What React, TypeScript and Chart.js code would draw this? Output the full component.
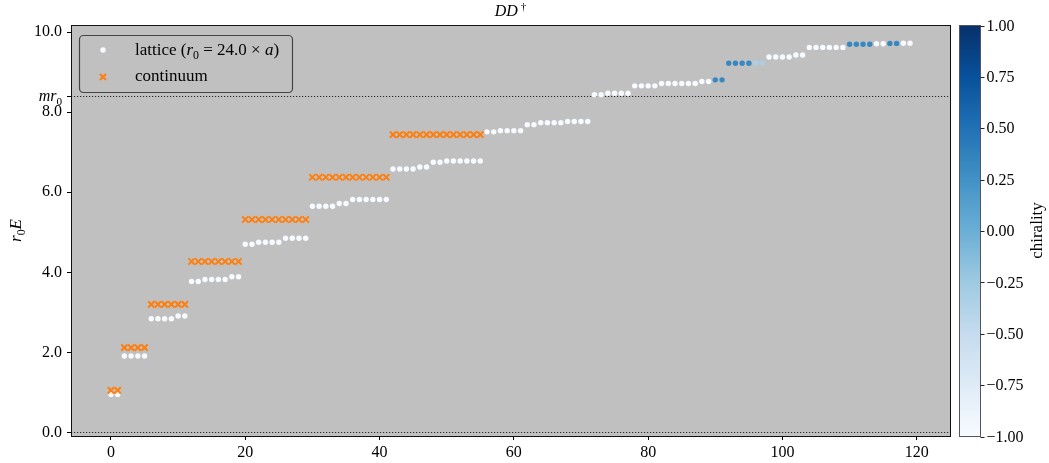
import React, { useEffect, useRef } from "react";
import { Chart, registerables } from "chart.js";
Chart.register(...registerables);

// ---------------- data ----------------
const latticeEnergy = [
  0.95, 0.95,
  1.91, 1.91, 1.91, 1.91,
  2.84, 2.84, 2.84, 2.84, 2.91, 2.91,
  3.77, 3.77, 3.82, 3.82, 3.82, 3.82, 3.89, 3.89,
  4.70, 4.70, 4.75, 4.75, 4.75, 4.75, 4.85, 4.85, 4.85, 4.85,
  5.65, 5.65, 5.65, 5.65, 5.72, 5.72, 5.82, 5.82, 5.82, 5.82, 5.82, 5.82,
  6.58, 6.58, 6.58, 6.58, 6.63, 6.63, 6.75, 6.75, 6.78, 6.78, 6.78, 6.78, 6.78, 6.78,
  7.51, 7.51, 7.54, 7.54, 7.54, 7.54, 7.69, 7.69, 7.74, 7.74, 7.74, 7.74, 7.77, 7.77, 7.77, 7.77,
  8.44, 8.44, 8.475, 8.475, 8.475, 8.475, 8.66, 8.66, 8.66, 8.66,
  8.72, 8.72, 8.72, 8.72, 8.72, 8.72, 8.77, 8.77, 8.81, 8.81,
  9.225, 9.225, 9.225, 9.225, 9.23, 9.23, 9.38, 9.38, 9.38, 9.38, 9.43, 9.43,
  9.62, 9.62, 9.62, 9.62, 9.62, 9.62, 9.70, 9.70, 9.70, 9.70, 9.71, 9.71,
  9.72, 9.72, 9.725, 9.725,
];

const latticeChirality = [
  -1, -1, -1, -1, -1, -1, -1, -1, -1, -1,
  -1, -1, -1, -1, -1, -1, -1, -1, -1, -1,
  -1, -1, -1, -1, -1, -1, -1, -1, -1, -1,
  -1, -1, -1, -1, -1, -1, -1, -1, -1, -1,
  -1, -1, -1, -1, -1, -1, -1, -1, -1, -1,
  -1, -1, -1, -1, -1, -1, -1, -1, -1, -1,
  -1, -1, -1, -1, -1, -1, -1, -1, -1, -1,
  -1, -1, -1, -1, -1, -1, -1, -1, -1, -1,
  -1, -1, -1, -1, -1, -1, -1, -1, -1, -1,
  0.33, 0.33, 0.33, 0.33, 0.33, 0.33, -0.33, -0.33, -1, -1,
  -1, -1, -1, -1, -1, -1, -1, -1, -1, -1,
  0.33, 0.33, 0.33, 0.33, -1, -1, 0.33, 0.33, -1, -1,
];

const continuumEnergy = [
  1.05, 1.05,
  2.12, 2.12, 2.12, 2.12,
  3.2, 3.2, 3.2, 3.2, 3.2, 3.2,
  4.27, 4.27, 4.27, 4.27, 4.27, 4.27, 4.27, 4.27,
  5.32, 5.32, 5.32, 5.32, 5.32, 5.32, 5.32, 5.32, 5.32, 5.32,
  6.375, 6.375, 6.375, 6.375, 6.375, 6.375, 6.375, 6.375, 6.375, 6.375, 6.375, 6.375,
  7.44, 7.44, 7.44, 7.44, 7.44, 7.44, 7.44, 7.44, 7.44, 7.44, 7.44, 7.44, 7.44, 7.44,
];

const xTicks = [0, 20, 40, 60, 80, 100, 120];
const yTicks = [0, 2, 4, 6, 8, 8.4, 10];
const MR0 = 8.4;
const hLines = [0, MR0];
const cbTicks = [-1, -0.75, -0.5, -0.25, 0, 0.25, 0.5, 0.75, 1];

// ---------------- style ----------------
const SERIF = "'Liberation Serif', 'DejaVu Serif', serif";
const BLUES = ["#f7fbff", "#deebf7", "#c6dbef", "#9ecae1", "#6baed6", "#4292c6", "#2171b5", "#08519c", "#08306b"];
const ORANGE = "#ff7f0e";
const AX_BG = "#c0c0c0";

function hexRgb(h: string) {
  return [parseInt(h.slice(1, 3), 16), parseInt(h.slice(3, 5), 16), parseInt(h.slice(5, 7), 16)];
}
function blues(t: number) {
  const tt = Math.max(0, Math.min(1, t)) * (BLUES.length - 1);
  const i = Math.min(BLUES.length - 2, Math.floor(tt));
  const f = tt - i;
  const a = hexRgb(BLUES[i]);
  const b = hexRgb(BLUES[i + 1]);
  const c = a.map((v, k) => Math.round(v + (b[k] - v) * f));
  return `rgb(${c[0]},${c[1]},${c[2]})`;
}
const chiralityColor = (c: number) => blues((c + 1) / 2);

function fmtCb(v: number) {
  const s = Math.abs(v).toFixed(2);
  return v < 0 ? "\u2212" + s : s;
}

type Run = { t: string; it?: boolean; sub?: boolean; sup?: boolean };
function runsWidth(ctx: CanvasRenderingContext2D, runs: Run[], size: number) {
  let w = 0;
  for (const r of runs) {
    const s = r.sub || r.sup ? size * 0.7 : size;
    ctx.font = `${r.it ? "italic " : ""}${s}px ${SERIF}`;
    w += ctx.measureText(r.t).width;
  }
  return w;
}
function drawRuns(ctx: CanvasRenderingContext2D, runs: Run[], x: number, y: number, size: number) {
  let cx = x;
  ctx.textBaseline = "alphabetic";
  ctx.textAlign = "left";
  for (const r of runs) {
    const s = r.sub || r.sup ? size * 0.7 : size;
    ctx.font = `${r.it ? "italic " : ""}${s}px ${SERIF}`;
    const dy = r.sub ? size * 0.22 : r.sup ? -size * 0.4 : 0;
    ctx.fillText(r.t, cx, y + dy);
    cx += ctx.measureText(r.t).width;
  }
}

const decorPlugin = {
  id: "decor",
  beforeDraw(chart: any) {
    const { ctx, chartArea: a } = chart;
    ctx.save();
    ctx.fillStyle = AX_BG;
    ctx.fillRect(a.left, a.top, a.right - a.left, a.bottom - a.top);
    ctx.restore();
  },
  beforeDatasetsDraw(chart: any) {
    const { ctx, chartArea: a, scales } = chart;
    ctx.save();
    ctx.strokeStyle = "#2a2a2a";
    ctx.lineWidth = 1;
    ctx.setLineDash([1.2, 1.8]);
    for (const v of hLines) {
      const y = Math.round(scales.y.getPixelForValue(v)) + 0.5;
      ctx.beginPath();
      ctx.moveTo(a.left, y);
      ctx.lineTo(a.right, y);
      ctx.stroke();
    }
    ctx.restore();
  },
  afterDraw(chart: any) {
    const { ctx, chartArea: a, scales } = chart;
    ctx.save();
    // frame
    ctx.strokeStyle = "#111";
    ctx.lineWidth = 1;
    ctx.strokeRect(Math.round(a.left) + 0.5, Math.round(a.top) + 0.5, Math.round(a.right - a.left), Math.round(a.bottom - a.top));

    // mr0 tick label
    ctx.fillStyle = "#000";
    const ymr = scales.y.getPixelForValue(MR0);
    const mrRuns: Run[] = [{ t: "mr", it: true }, { t: "0", sub: true }];
    const mw = runsWidth(ctx, mrRuns, 16);
    drawRuns(ctx, mrRuns, a.left - 9 - mw, ymr + 5, 16);

    // title
    const titleRuns: Run[] = [{ t: "DD", it: true }, { t: " \u2020", sup: true }];
    const tw = runsWidth(ctx, titleRuns, 16);
    drawRuns(ctx, titleRuns, (a.left + a.right) / 2 - tw / 2, 16, 16);

    // y label
    ctx.save();
    ctx.translate(21, (a.top + a.bottom) / 2);
    ctx.rotate(-Math.PI / 2);
    const ylRuns: Run[] = [{ t: "r", it: true }, { t: "0", sub: true }, { t: "E", it: true }];
    const yw = runsWidth(ctx, ylRuns, 17);
    drawRuns(ctx, ylRuns, -yw / 2, 0, 17);
    ctx.restore();

    // legend
    const lx = 79.5, ly = 35.5, lw = 213, lh = 57, rr = 4;
    ctx.beginPath();
    ctx.moveTo(lx + rr, ly);
    ctx.arcTo(lx + lw, ly, lx + lw, ly + lh, rr);
    ctx.arcTo(lx + lw, ly + lh, lx, ly + lh, rr);
    ctx.arcTo(lx, ly + lh, lx, ly, rr);
    ctx.arcTo(lx, ly, lx + lw, ly, rr);
    ctx.closePath();
    ctx.fillStyle = "rgba(192,192,192,0.85)";
    ctx.fill();
    ctx.strokeStyle = "#444";
    ctx.lineWidth = 1.2;
    ctx.stroke();
    ctx.fillStyle = chiralityColor(-1);
    ctx.beginPath();
    ctx.arc(103, 50, 2.7, 0, Math.PI * 2);
    ctx.fill();
    ctx.strokeStyle = ORANGE;
    ctx.lineWidth = 2;
    ctx.beginPath();
    ctx.moveTo(100, 74);
    ctx.lineTo(106, 80);
    ctx.moveTo(106, 74);
    ctx.lineTo(100, 80);
    ctx.stroke();
    ctx.fillStyle = "#000";
    drawRuns(ctx, [
      { t: "lattice (" },
      { t: "r", it: true },
      { t: "0", sub: true },
      { t: " = 24.0 \u00d7 " },
      { t: "a", it: true },
      { t: ")" },
    ], 135, 55, 17);
    drawRuns(ctx, [{ t: "continuum" }], 135, 81, 17);

    // colorbar
    const cbL = 959.5, cbR = 980.5;
    const top = Math.round(a.top) + 0.5, bot = Math.round(a.bottom) + 0.5;
    const g = ctx.createLinearGradient(0, bot, 0, top);
    BLUES.forEach((c, i) => g.addColorStop(i / (BLUES.length - 1), c));
    ctx.fillStyle = g;
    ctx.fillRect(cbL, top, cbR - cbL, bot - top);
    ctx.strokeStyle = "#555";
    ctx.lineWidth = 1;
    ctx.strokeRect(cbL, top, cbR - cbL, bot - top);
    ctx.fillStyle = "#000";
    ctx.strokeStyle = "#222";
    ctx.font = `16px ${SERIF}`;
    ctx.textAlign = "left";
    ctx.textBaseline = "middle";
    for (const v of cbTicks) {
      const y = bot - ((v + 1) / 2) * (bot - top);
      ctx.beginPath();
      ctx.moveTo(cbR, Math.round(y) + 0.5);
      ctx.lineTo(cbR + 4, Math.round(y) + 0.5);
      ctx.stroke();
      ctx.fillText(fmtCb(v), cbR + 6, y + 1);
    }
    ctx.save();
    ctx.translate(1042, (a.top + a.bottom) / 2);
    ctx.rotate(-Math.PI / 2);
    ctx.textAlign = "center";
    ctx.textBaseline = "alphabetic";
    ctx.font = `17px ${SERIF}`;
    ctx.fillText("chirality", 0, 0);
    ctx.restore();

    ctx.restore();
  },
};

export default function App() {
  const ref = useRef<HTMLCanvasElement | null>(null);
  useEffect(() => {
    if (!ref.current) return;
    const lattice = latticeEnergy.map((y, i) => ({ x: i, y }));
    const continuum = continuumEnergy.map((y, i) => ({ x: i, y }));
    const chart = new Chart(ref.current, {
      type: "scatter",
      data: {
        datasets: [
          {
            label: "continuum",
            data: continuum,
            pointStyle: "crossRot",
            pointRadius: 4.4,
            borderColor: ORANGE,
            backgroundColor: ORANGE,
            pointBorderWidth: 2,
            order: 0,
          },
          {
            label: "lattice",
            data: lattice,
            pointStyle: "circle",
            pointRadius: 2.7,
            pointBorderWidth: 0,
            backgroundColor: latticeChirality.map(chiralityColor),
            borderColor: latticeChirality.map(chiralityColor),
            order: 1,
          },
        ],
      },
      options: {
        responsive: false,
        animation: false,
        events: [],
        layout: { padding: { top: 25, right: 99, left: 0, bottom: 0 } },
        plugins: { legend: { display: false }, title: { display: false }, tooltip: { enabled: false } },
        scales: {
          x: {
            type: "linear",
            min: -5.95,
            max: 124.95,
            afterBuildTicks: (s: any) => { s.ticks = xTicks.map((v) => ({ value: v })); },
            afterFit: (s: any) => { s.height = 27; },
            border: { display: false },
            grid: { display: true, drawOnChartArea: false, drawTicks: true, tickLength: 4, color: "#000", tickColor: "#000" },
            ticks: { color: "#000", font: { family: SERIF, size: 16 }, padding: 3, maxRotation: 0, callback: (v: any) => String(v) },
          },
          y: {
            type: "linear",
            min: -0.09,
            max: 10.18,
            afterBuildTicks: (s: any) => { s.ticks = yTicks.map((v) => ({ value: v })); },
            afterFit: (s: any) => { s.width = 71; },
            border: { display: false },
            grid: { display: true, drawOnChartArea: false, drawTicks: true, tickLength: 4, color: "#000", tickColor: "#000" },
            ticks: {
              color: "#000",
              font: { family: SERIF, size: 16 },
              padding: 5,
              callback: (v: any) => (v === MR0 ? "" : Number(v).toFixed(1)),
            },
          },
        },
      },
      plugins: [decorPlugin],
    });
    return () => chart.destroy();
  }, []);
  return (
    <div style={{ position: "fixed", left: 0, top: 0, width: 1049, height: 463, background: "#fff" }}>
      <canvas ref={ref} width={1049} height={463} style={{ display: "block" }} />
    </div>
  );
}
